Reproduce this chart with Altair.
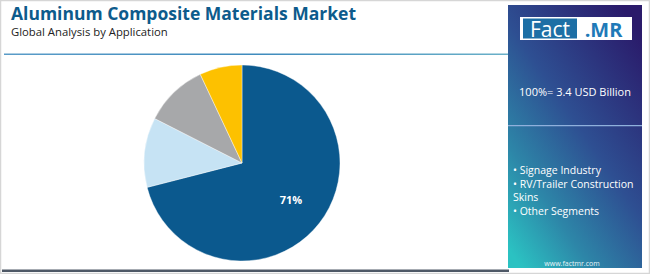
import altair as alt
import pandas as pd

# ---- data ----
segments = ["Signage Industry", "RV/Trailer Construction Skins", "Other Segments", "Others"]
shares = [71, 11.5, 10.5, 7]
slice_colors = ["#0b598e", "#c6e3f4", "#a7a8aa", "#fdc100"]

title_text = "Aluminum Composite Materials Market"
subtitle_text = "Global Analysis by Application"
total_text = "100%= 3.4 USD Billion"
legend_lines = ["• Signage Industry", "• RV/Trailer Construction", "Skins", "• Other Segments"]
site_text = "www.factmr.com"

W, H = 650, 274
pie_df = pd.DataFrame({
    "segment": segments,
    "share": shares,
    "order": list(range(len(segments))),
    "label": [f"{s:.0f}%" if s > 20 else "" for s in shares],
})
one = pd.DataFrame({"k": [0]})

def box(x, x2, y, y2, **kw):
    return alt.Chart(one).mark_rect(**kw).encode(
        x=alt.value(x), x2=alt.value(x2), y=alt.value(y), y2=alt.value(y2))

def txt(s, x, y, **kw):
    return alt.Chart(one).mark_text(**kw).encode(
        x=alt.value(x), y=alt.value(y), text=alt.value(s))

border = box(0.5, W - 0.5, 0.5, H - 0.5, fill="white", stroke="#d6d6d6", strokeWidth=1.5)

title = txt(title_text, 11, 19.5, align="left", baseline="alphabetic",
            font="Open Sans", fontSize=17.5, fontWeight="bold", color="#0d5b8c")
subtitle = txt(subtitle_text, 11, 35.5, align="left", baseline="alphabetic",
               font="Open Sans", fontSize=11.3, color="#222222")

top_line = box(4, 509, 53.6, 55, color=alt.Gradient(
    gradient="linear", x1=0, y1=0, x2=1, y2=0,
    stops=[alt.GradientStop(offset=0, color="#5a9cc8"),
           alt.GradientStop(offset=0.5, color="#3f8bbd"),
           alt.GradientStop(offset=1, color="#6ab0c8")]))
bottom_line = box(2, 509, 269.5, 272, color="#4e5866")

# pie
cx, cy, R = 242, 163, 98
pie = alt.Chart(pie_df).mark_arc(radius=R, stroke="white", strokeWidth=0.4).encode(
    theta=alt.Theta("share:Q", stack=True),
    order=alt.Order("order:Q"),
    color=alt.Color("segment:N", scale=alt.Scale(domain=segments, range=slice_colors), legend=None),
    x=alt.value(cx), y=alt.value(cy),
)
pie_label = alt.Chart(pie_df).mark_text(radius=62, font="Open Sans", fontSize=11,
                                         fontWeight="bold", color="white").encode(
    theta=alt.Theta("share:Q", stack=True),
    order=alt.Order("order:Q"),
    text="label:N",
    x=alt.value(cx), y=alt.value(cy),
)

# right panel
panel = box(508, 642, 5, 268, color=alt.Gradient(
    gradient="linear", x1=0.85, y1=0, x2=0.1, y2=1,
    stops=[alt.GradientStop(offset=0, color="#2a1a6a"),
           alt.GradientStop(offset=0.45, color="#2e4f92"),
           alt.GradientStop(offset=0.75, color="#2d86a8"),
           alt.GradientStop(offset=1, color="#2bc2c2")]))
divider = box(508, 642, 125, 126.3, color="#8fb0dc")
logo_bg = box(520, 632, 17, 40, color="white")
logo_fact = box(523, 577, 18.5, 38.5, color="#1d6fa5")
logo_t1 = txt("Fact", 550, 36.5, align="center", baseline="alphabetic",
              font="Open Sans", fontSize=21, color="white")
logo_t2 = txt(".MR", 603.5, 36.5, align="center", baseline="alphabetic",
              font="Open Sans", fontSize=20, fontWeight="bold", color="#1f7ab8")
total = txt(total_text, 575, 96, align="center", baseline="alphabetic",
            font="Open Sans", fontSize=11, color="white")
legend_layers = [
    txt(s, 513, y, align="left", baseline="alphabetic", font="Open Sans", fontSize=10.5, color="white")
    for s, y in zip(legend_lines, [174, 187.5, 201, 215])
]
site = txt(site_text, 572, 266, align="center", baseline="alphabetic",
           font="Open Sans", fontSize=7, color="#e8f4f8")

chart = alt.layer(
    border, title, subtitle, top_line, bottom_line, pie, pie_label,
    panel, divider, logo_bg, logo_fact, logo_t1, logo_t2, total, *legend_layers, site
).properties(
    width=W, height=H, padding=0, autosize=alt.AutoSizeParams(type="none")
).configure_view(stroke=None)

chart.save("out.html", embed_options={"renderer": "svg", "actions": False})
